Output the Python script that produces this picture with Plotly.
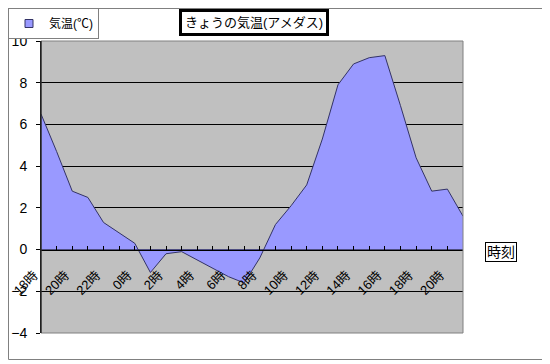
import plotly.graph_objects as go

# ---- data ----
categories = ["18時", "19時", "20時", "21時", "22時", "23時",
              "0時", "1時", "2時", "3時", "4時", "5時", "6時", "7時", "8時", "9時",
              "10時", "11時", "12時", "13時", "14時", "15時", "16時", "17時",
              "18時", "19時", "20時", "21時"]
temperature = [6.5, 4.7, 2.8, 2.5, 1.3, 0.8,
               0.3, -1.1, -0.2, -0.1, -0.5, -0.9, -1.3, -1.6, -0.4, 1.2,
               2.1, 3.1, 5.3, 7.9, 8.9, 9.2, 9.3, 6.9,
               4.4, 2.8, 2.9, 1.6]
series_name = "気温(℃)"
title_text = "きょうの気温(アメダス)"
x_title = "時刻"
y_ticks = [-4, -2, 0, 2, 4, 6, 8, 10]

idx = list(range(len(categories)))
label_idx = idx[::2]
label_text = [categories[i] for i in label_idx]

FONT = "Liberation Sans, Noto Sans CJK JP, sans-serif"

# the page body adds an 8px margin; work in window pixels and shift
OFF = 8
W, H = 550 - OFF, 364 - OFF
L_PX, R_PX, T_PX, B_PX = 41, 463, 41, 333   # plot area in window pixels
ML, MT = L_PX - OFF, T_PX - OFF
MR, MB = W - (R_PX - OFF), H - (B_PX - OFF)
pw, ph = R_PX - L_PX, B_PX - T_PX

def px_x(x):
    return (x - L_PX) / pw

def px_y(y):
    return (B_PX - y) / ph

fig = go.Figure()
fig.add_trace(go.Scatter(
    x=idx, y=temperature, mode="lines", fill="tozeroy",
    fillcolor="#9999FF", line=dict(color="#333366", width=1),
    showlegend=False, hoverinfo="skip"))
# legend swatch
fig.add_trace(go.Scatter(
    x=[None], y=[None], mode="markers", name=series_name,
    marker=dict(symbol="square", size=8, color="#9999FF",
                line=dict(color="#333366", width=1))))

ymin, ymax = y_ticks[0], y_ticks[-1]
fig.update_layout(
    width=W, height=H,
    margin=dict(l=ML, r=MR, t=MT, b=MB, pad=0, autoexpand=False),
    paper_bgcolor="white", plot_bgcolor="#C0C0C0",
    font=dict(family=FONT, color="black", size=13),
    showlegend=True,
    legend=dict(xref="container", yref="container",
                x=0.0, y=1.0, xanchor="left", yanchor="top",
                bgcolor="white", bordercolor="#808080", borderwidth=1,
                font=dict(size=12, family=FONT), itemwidth=30,
                tracegroupgap=0),
    xaxis=dict(range=[0, len(idx) - 1], tickmode="array",
               tickvals=label_idx, ticktext=label_text, tickangle=-45,
               tickfont=dict(size=13, family=FONT),
               ticklabelstandoff=12, ticklabelshift=-7,
               showgrid=False, zeroline=False,
               showline=True, linecolor="black", linewidth=1,
               ticks="inside", ticklen=4, tickcolor="black",
               minor=dict(tickvals=idx, ticks="inside", ticklen=4,
                          tickcolor="black", showgrid=False),
               anchor="free", position=(0 - ymin) / (ymax - ymin)),
    yaxis=dict(range=[ymin, ymax], tickmode="array", tickvals=y_ticks,
               tickfont=dict(size=14, family=FONT),
               showgrid=True, gridcolor="black", gridwidth=1,
               zeroline=False, showline=True, linecolor="black",
               linewidth=1, ticks="outside", ticklen=4, tickcolor="black",
               ticklabelstandoff=6),
    shapes=[
        dict(type="rect", xref="x domain", yref="y domain",
             x0=0, x1=1, y0=0, y1=1, line=dict(color="#808080", width=1),
             layer="above"),
        dict(type="line", xref="x domain", yref="y domain",
             x0=0, x1=0, y0=0, y1=1, line=dict(color="black", width=1),
             layer="above"),
        dict(type="rect", xref="paper", yref="paper",
             x0=px_x(8.5), x1=px_x(546), y0=px_y(359.5), y1=px_y(8.5),
             line=dict(color="#808080", width=1), layer="below"),
    ],
    annotations=[
        dict(text=title_text, xref="paper", yref="paper",
             x=px_x(254), y=px_y(22), xanchor="center", yanchor="middle",
             showarrow=False, font=dict(size=13, family=FONT),
             bgcolor="white", bordercolor="black", borderwidth=3,
             borderpad=3),
        dict(text=x_title, xref="paper", yref="paper",
             x=px_x(501), y=px_y(252), xanchor="center", yanchor="middle",
             showarrow=False, font=dict(size=14, family=FONT),
             bgcolor="white", bordercolor="black", borderwidth=1,
             borderpad=1),
    ],
)

fig.write_html("out.html")
